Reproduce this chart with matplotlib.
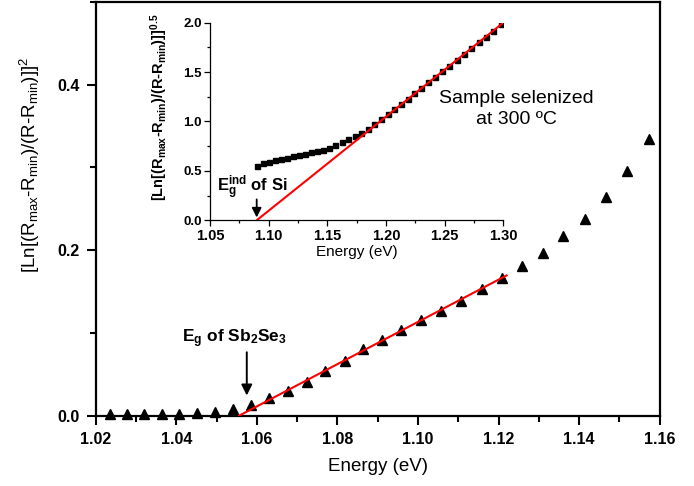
import numpy as np
import matplotlib
matplotlib.use('Agg')
import matplotlib.pyplot as plt
from matplotlib.ticker import MultipleLocator

plt.rcParams['font.family'] = ['Liberation Sans', 'DejaVu Sans']
plt.rcParams['mathtext.fontset'] = 'custom'
plt.rcParams['mathtext.rm'] = 'Liberation Sans'
plt.rcParams['mathtext.it'] = 'Liberation Sans:italic'
plt.rcParams['mathtext.bf'] = 'Liberation Sans:bold'

# main panel: Sb2Se3 (direct), triangles
energy_main = [1.0236, 1.0278, 1.0321, 1.0365, 1.0408, 1.0452, 1.0497, 1.0542,
               1.0585, 1.0631, 1.0678, 1.0724, 1.0769, 1.0819, 1.0863, 1.0911,
               1.0959, 1.1007, 1.1057, 1.1107, 1.1158, 1.1209, 1.1259, 1.1311,
               1.1361, 1.1414, 1.1467, 1.1520, 1.1574]
signal_main = [0.002, 0.002, 0.002, 0.002, 0.002, 0.003, 0.005, 0.008,
               0.013, 0.021, 0.030, 0.041, 0.054, 0.066, 0.080, 0.092,
               0.104, 0.116, 0.127, 0.139, 0.153, 0.166, 0.181, 0.197,
               0.217, 0.238, 0.264, 0.296, 0.335]
fit_main_e0 = 1.0556      # intercept with zero
fit_main_slope = 2.553
fit_main_range = [1.0556, 1.1220]

# inset: Si (indirect), squares
energy_in = [1.0903, 1.0955, 1.1003, 1.1054, 1.1103, 1.1154, 1.1205, 1.1256,
             1.1307, 1.1358, 1.1410, 1.1461, 1.1515, 1.1568, 1.1625, 1.1679,
             1.1733, 1.1787, 1.1844, 1.1901, 1.1958, 1.2015, 1.2071, 1.2128,
             1.2184, 1.2242, 1.2301, 1.2360, 1.2420, 1.2480, 1.2541, 1.2602,
             1.2664, 1.2726, 1.2789, 1.2852, 1.2916, 1.2980]
signal_in = [0.553, 0.577, 0.593, 0.607, 0.620, 0.634, 0.648, 0.658,
             0.671, 0.688, 0.701, 0.715, 0.735, 0.760, 0.790, 0.820,
             0.850, 0.887, 0.927, 0.972, 1.030, 1.080, 1.130, 1.180,
             1.230, 1.285, 1.340, 1.395, 1.450, 1.507, 1.565, 1.622,
             1.680, 1.739, 1.800, 1.860, 1.920, 1.982]
fit_in_e0 = 1.0898
fit_in_slope = 9.515
fit_in_range = [1.0898, 1.30]

main_ylabel = r'[Ln[(R$_\mathrm{max}$-R$_\mathrm{min}$)/(R-R$_\mathrm{min}$)]]$^\mathrm{2}$'
in_ylabel = r'[Ln[(R$_\mathbf{max}$-R$_\mathbf{min}$)/(R-R$_\mathbf{min}$)]]$^\mathbf{0.5}$'

Fig = plt.figure(figsize=(6.94, 4.86), dpi=100)
Ax = Fig.add_axes([0.1379, 0.1447, 0.8127, 0.8512])

Ax.plot(energy_main, signal_main, '^', color='k', markersize=6.5, clip_on=False, zorder=3)
xf = np.array(fit_main_range)
Ax.plot(xf, fit_main_slope*(xf-fit_main_e0), color='red', lw=1.5, zorder=4)
Ax.set_xlim(1.02, 1.16)
Ax.set_ylim(0, 0.5)
Ax.xaxis.set_major_locator(MultipleLocator(0.02))
Ax.xaxis.set_minor_locator(MultipleLocator(0.01))
Ax.yaxis.set_major_locator(MultipleLocator(0.2))
Ax.yaxis.set_minor_locator(MultipleLocator(0.1))
Ax.set_yticks([0.0, 0.2, 0.4])
Ax.set_yticklabels(['0.0', '0.2', '0.4'])
Ax.set_xticks(np.arange(1.02, 1.1601, 0.02))
Ax.set_xticklabels(['%.2f' % v for v in np.arange(1.02, 1.1601, 0.02)])
for s in Ax.spines.values():
    s.set_linewidth(1.6)
Ax.tick_params(which='major', direction='out', length=6.5, width=1.5, labelsize=11.5, pad=5)
Ax.tick_params(which='minor', direction='out', length=4, width=1.5)
for lab in Ax.get_xticklabels() + Ax.get_yticklabels():
    lab.set_fontweight('bold')
Ax.set_xlabel('Energy (eV)', fontsize=13.5, labelpad=8)
Ax.set_ylabel(main_ylabel, fontsize=13.5, labelpad=12)
Ax.yaxis.set_label_coords(-0.095, 0.606)

Ax.annotate('', xy=(1.0575, 0.021), xytext=(1.0575, 0.080),
            arrowprops=dict(arrowstyle='-|>', color='k', lw=1.4, mutation_scale=16))
Ax.text(1.0544, 0.089, r'E$_\mathbf{g}$ of Sb$_\mathbf{2}$Se$_\mathbf{3}$',
        ha='center', va='baseline', fontsize=12.5, fontweight='bold')

# inset
Ax_in = Fig.add_axes([0.3026, 0.5467, 0.4226, 0.4066])
Ax_in.patch.set_alpha(0)
Ax_in.plot(energy_in, signal_in, 's', color='k', markersize=3.6, zorder=3)
xi = np.array(fit_in_range)
Ax_in.plot(xi, fit_in_slope*(xi-fit_in_e0), color='red', lw=1.5, zorder=4)
Ax_in.set_xlim(1.05, 1.30)
Ax_in.set_ylim(0, 2.0)
Ax_in.xaxis.set_major_locator(MultipleLocator(0.05))
Ax_in.xaxis.set_minor_locator(MultipleLocator(0.025))
Ax_in.yaxis.set_major_locator(MultipleLocator(0.5))
Ax_in.yaxis.set_minor_locator(MultipleLocator(0.25))
Ax_in.set_xticks(np.arange(1.05, 1.3001, 0.05))
Ax_in.set_xticklabels(['%.2f' % v for v in np.arange(1.05, 1.3001, 0.05)])
Ax_in.set_yticks(np.arange(0, 2.01, 0.5))
Ax_in.set_yticklabels(['%.1f' % v for v in np.arange(0, 2.01, 0.5)])
Ax_in.spines['top'].set_visible(False)
Ax_in.spines['right'].set_visible(False)
for s in ['left', 'bottom']:
    Ax_in.spines[s].set_linewidth(0.9)
Ax_in.tick_params(which='major', direction='out', length=4, width=0.9, pad=2)
Ax_in.tick_params(which='minor', direction='out', length=2.5, width=0.9)
Ax_in.tick_params(axis='x', labelsize=10.5)
Ax_in.tick_params(axis='y', labelsize=9.5)
for lab in Ax_in.get_xticklabels() + Ax_in.get_yticklabels():
    lab.set_fontweight('bold')
Ax_in.set_xlabel('Energy (eV)', fontsize=11, labelpad=2)
Ax_in.set_ylabel(in_ylabel, fontsize=10.5, fontweight='bold')
Ax_in.yaxis.set_label_coords(-0.135, 0.571)

Ax_in.annotate('', xy=(1.0898, 0.0), xytext=(1.0898, 0.24),
               arrowprops=dict(arrowstyle='-|>', color='k', lw=1.3, mutation_scale=14),
               annotation_clip=False)
Ax_in.text(1.056, 0.285, r'E$_\mathbf{g}^\mathbf{ind}$ of Si', ha='left', va='baseline',
           fontsize=12, fontweight='bold')
Ax_in.text(1.3115, 1.127, 'Sample selenized\nat 300 ºC', ha='center', va='center',
           fontsize=14, linespacing=1.3, clip_on=False)

Fig.savefig('out.png', dpi=100)
